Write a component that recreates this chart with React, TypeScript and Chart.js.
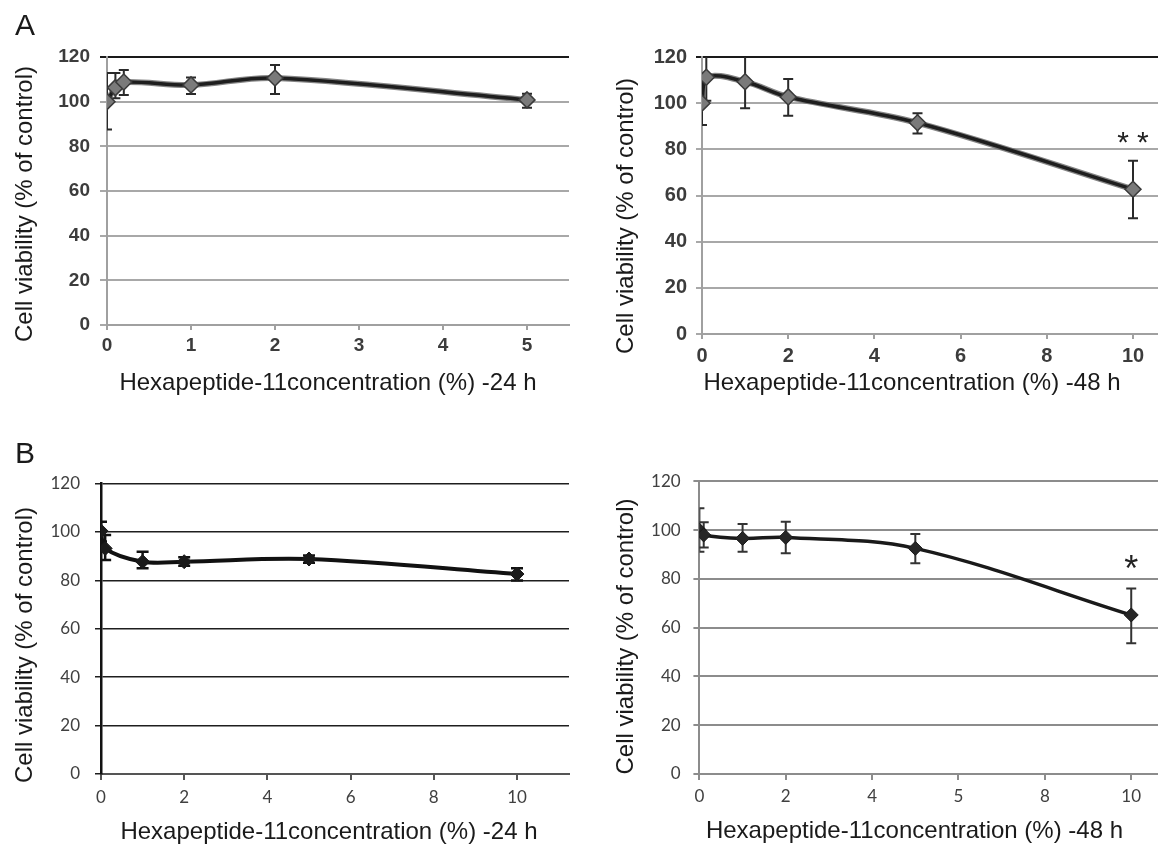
import React, { useEffect, useRef } from 'react';
import { Chart, registerables } from 'chart.js';

Chart.register(...registerables);

// ---------------- DATA ----------------
// Panel A, 24 h
const A24_X = [0, 0.1, 0.2, 1, 2, 5];
const A24_Y = [100, 106.3, 108.8, 107.5, 110.6, 100.8];
const A24_LOW = [87.5, 101.5, 103, 103.4, 103.4, 97.3];
const A24_HIGH = [112.8, 112.8, 114.2, 110.8, 116.4, 103.6];
const A24_XTICKS = [0, 1, 2, 3, 4, 5];
const A24_XLABELS = ['0', '1', '2', '3', '4', '5'];

// Panel A, 48 h
const A48_X = [0, 0.1, 1, 2, 5, 10];
const A48_Y = [100, 111.2, 109.3, 102.7, 91.5, 62.7];
const A48_LOW = [90.5, 101, 97.8, 94.6, 86.9, 50.1];
const A48_HIGH = [109.6, 121.5, 121.5, 110.5, 95.6, 75.1];
const A48_XTICKS = [0, 2, 4, 6, 8, 10];
const A48_XLABELS = ['0', '2', '4', '6', '8', '10'];
const A48_MARK = { x: 10, y: 82.3, text: '**' };

// Panel B, 24 h
const B24_X = [0, 0.1, 1, 2, 5, 10];
const B24_Y = [100.4, 93.2, 87.7, 87.7, 88.8, 82.6];
const B24_LOW = [96, 88.4, 85, 86, 87.3, 79.9];
const B24_HIGH = [104.2, 98.7, 91.8, 89.5, 90.3, 85];
const B24_XTICKS = [0, 2, 4, 6, 8, 10];
const B24_XLABELS = ['0', '2', '4', '6', '8', '10'];

// Panel B, 48 h
const B48_X = [0, 0.1, 1, 2, 5, 10];
const B48_Y = [100, 98, 96.6, 97, 92.5, 65.2];
const B48_LOW = [91.1, 92.9, 91.1, 90.5, 86.4, 53.6];
const B48_HIGH = [108.9, 103.2, 102.5, 103.4, 98.4, 76.1];
const B48_XTICKS = [0, 2, 4, 6, 8, 10];
const B48_XLABELS = ['0', '2', '4', '5', '8', '10'];
const B48_MARK = { x: 10, y: 83.1, text: '*' };

const Y_TITLE = 'Cell viability (% of control)';
const X_TITLE_24 = 'Hexapeptide-11concentration (%) -24 h';
const X_TITLE_48 = 'Hexapeptide-11concentration (%) -48 h';

// ---------------- PLUGINS ----------------
const errorBarPlugin = {
  id: 'errorBars',
  beforeDatasetsDraw(chart: any) {
    const { ctx, chartArea, scales } = chart;
    const xs = scales.x;
    const ys = scales.y;
    ctx.save();
    ctx.beginPath();
    ctx.rect(chartArea.left, chartArea.top, chartArea.right - chartArea.left, chartArea.bottom - chartArea.top);
    ctx.clip();
    chart.data.datasets.forEach((ds: any) => {
      const eb = ds.errorBars;
      if (!eb) return;
      ctx.strokeStyle = eb.color;
      ctx.lineWidth = eb.width;
      ds.data.forEach((pt: any, i: number) => {
        const px = xs.getPixelForValue(pt.x);
        const yl = ys.getPixelForValue(eb.low[i]);
        const yh = ys.getPixelForValue(eb.high[i]);
        ctx.beginPath();
        ctx.moveTo(px, yl);
        ctx.lineTo(px, yh);
        ctx.moveTo(px - eb.cap, yl);
        ctx.lineTo(px + eb.cap, yl);
        ctx.moveTo(px - eb.cap, yh);
        ctx.lineTo(px + eb.cap, yh);
        ctx.stroke();
      });
    });
    ctx.restore();
  },
};

const textPlugin = {
  id: 'panelText',
  afterDraw(chart: any, _args: any, opts: any) {
    const ctx = chart.ctx;
    const items = (opts && opts.items) || [];
    items.forEach((it: any) => {
      ctx.save();
      ctx.font = it.font;
      ctx.fillStyle = it.color || '#1a1a1a';
      ctx.textAlign = it.align || 'center';
      ctx.textBaseline = it.baseline || 'middle';
      let px = it.x;
      let py = it.y;
      if (it.dataX !== undefined) {
        px = chart.scales.x.getPixelForValue(it.dataX);
        py = chart.scales.y.getPixelForValue(it.dataY);
      }
      ctx.translate(px, py);
      if (it.rotate) ctx.rotate(it.rotate);
      if (it.spacing) {
        const chars = String(it.text).split('');
        const widths = chars.map((c: string) => ctx.measureText(c).width);
        const total = widths.reduce((a: number, b: number) => a + b, 0) + it.spacing * (chars.length - 1);
        let cx = -total / 2;
        ctx.textAlign = 'left';
        chars.forEach((c: string, i: number) => {
          ctx.fillText(c, cx, 0);
          cx += widths[i] + it.spacing;
        });
      } else {
        ctx.fillText(it.text, 0, 0);
      }
      ctx.restore();
    });
  },
};

// ---------------- CONFIG BUILDER ----------------
const ARIAL = '"Liberation Sans", Arial, sans-serif';
const CALIBRI = 'Lato, "Open Sans", sans-serif';

function makeConfig(p: any) {
  const pts = p.xs.map((x: number, i: number) => ({ x, y: p.ys[i] }));
  const datasets: any[] = [
    {
      data: pts,
      borderColor: p.lineColor,
      borderWidth: p.lineWidth,
      tension: p.tension,
      fill: false,
      pointStyle: 'rectRot',
      pointRadius: p.pointRadius,
      pointBackgroundColor: p.pointFill,
      pointBorderColor: p.pointBorder,
      pointBorderWidth: p.pointBorderWidth,
      errorBars: { low: p.low, high: p.high, color: p.errColor, width: p.errWidth, cap: p.errCap },
    },
  ];
  if (p.outline) {
    datasets.push({
      data: pts,
      borderColor: p.outline.color,
      borderWidth: p.outline.width,
      tension: p.tension,
      fill: false,
      pointRadius: 0,
    });
  }
  return {
    type: 'line',
    data: { datasets },
    options: {
      animation: false,
      responsive: false,
      layout: { autoPadding: false, padding: { top: p.padTop, right: p.padRight, left: 0, bottom: 0 } },
      plugins: {
        legend: { display: false },
        tooltip: { enabled: false },
        panelText: { items: p.texts },
      },
      scales: {
        x: {
          type: 'linear',
          min: 0,
          max: p.xMax,
          afterBuildTicks: (axis: any) => {
            axis.ticks = p.xTicks.map((v: number) => ({ value: v }));
          },
          afterFit: (s: any) => {
            s.height = p.xHeight;
            s.paddingLeft = 0;
            s.paddingRight = 0;
          },
          ticks: {
            autoSkip: false,
            maxRotation: 0,
            padding: p.xPad,
            font: p.tickFont,
            color: p.tickColor,
            callback: (_v: any, i: number) => p.xLabels[i],
          },
          grid: {
            drawOnChartArea: false,
            drawTicks: true,
            tickLength: p.xTickLen,
            color: p.xAxisColor,
            lineWidth: 2,
          },
          border: { color: p.xAxisColor, width: p.xAxisWidth },
        },
        y: {
          min: 0,
          max: 120,
          afterFit: (s: any) => {
            s.width = p.yWidth;
            s.paddingTop = 0;
            s.paddingBottom = 0;
          },
          ticks: {
            stepSize: 20,
            padding: p.yPad,
            font: p.tickFont,
            color: p.tickColor,
          },
          grid: {
            color: (c: any) => (c.tick && c.tick.value === 120 ? p.topColor : p.gridColor),
            lineWidth: p.gridWidth,
            tickLength: p.yTickLen,
          },
          border: { color: p.yAxisColor, width: p.yAxisWidth },
        },
      },
    },
    plugins: [errorBarPlugin, textPlugin],
  };
}

const titleFont = '24px ' + ARIAL;

const panels = [
  {
    key: 'a24',
    frame: { left: 0, top: 0, width: 575, height: 400 },
    cfg: {
      xs: A24_X, ys: A24_Y, low: A24_LOW, high: A24_HIGH,
      xTicks: A24_XTICKS, xLabels: A24_XLABELS, xMax: 5.5,
      padTop: 57, padRight: 6, yWidth: 107, xHeight: 75,
      xPad: 4, xTickLen: 5, yPad: 10, yTickLen: 7,
      tickFont: { family: ARIAL, size: 19, weight: 'bold' }, tickColor: '#3c3c3c',
      gridColor: '#a8a8a8', topColor: '#1a1a1a', gridWidth: 2,
      xAxisColor: '#a0a0a0', xAxisWidth: 2, yAxisColor: '#a0a0a0', yAxisWidth: 2,
      lineColor: '#1e1e1e', lineWidth: 3.5, tension: 0.35,
      outline: { color: 'rgba(110,110,110,0.85)', width: 6 },
      pointRadius: 8, pointFill: '#7a7a7a', pointBorder: '#3a3a3a', pointBorderWidth: 1.5,
      errColor: '#2a2a2a', errWidth: 2, errCap: 5,
      texts: [
        { text: 'A', x: 15, y: 35, align: 'left', baseline: 'alphabetic', font: '30px ' + ARIAL, color: '#1a1a1a' },
        { text: Y_TITLE, x: 25, y: 204, rotate: -Math.PI / 2, font: titleFont },
        { text: X_TITLE_24, x: 328, y: 383, font: titleFont },
      ],
    },
  },
  {
    key: 'a48',
    frame: { left: 580, top: 0, width: 578, height: 400 },
    cfg: {
      xs: A48_X, ys: A48_Y, low: A48_LOW, high: A48_HIGH,
      xTicks: A48_XTICKS, xLabels: A48_XLABELS, xMax: 10.58,
      padTop: 57, padRight: 0, yWidth: 122, xHeight: 66,
      xPad: 5, xTickLen: 5, yPad: 9, yTickLen: 6,
      tickFont: { family: ARIAL, size: 20, weight: 'bold' }, tickColor: '#3c3c3c',
      gridColor: '#a8a8a8', topColor: '#1a1a1a', gridWidth: 2,
      xAxisColor: '#a0a0a0', xAxisWidth: 2, yAxisColor: '#a0a0a0', yAxisWidth: 2,
      lineColor: '#1e1e1e', lineWidth: 3.5, tension: 0.35,
      outline: { color: 'rgba(110,110,110,0.85)', width: 6 },
      pointRadius: 8, pointFill: '#7a7a7a', pointBorder: '#3a3a3a', pointBorderWidth: 1.5,
      errColor: '#2a2a2a', errWidth: 2, errCap: 5,
      texts: [
        { text: Y_TITLE, x: 46.6, y: 216, rotate: -Math.PI / 2, font: titleFont },
        { text: X_TITLE_48, x: 332, y: 383, font: titleFont },
        { text: A48_MARK.text, dataX: A48_MARK.x, dataY: A48_MARK.y, font: '30px ' + ARIAL, spacing: 8, color: '#222' },
      ],
    },
  },
  {
    key: 'b24',
    frame: { left: 0, top: 430, width: 575, height: 414 },
    cfg: {
      xs: B24_X, ys: B24_Y, low: B24_LOW, high: B24_HIGH,
      xTicks: B24_XTICKS, xLabels: B24_XLABELS, xMax: 11.25,
      padTop: 53.5, padRight: 6, yWidth: 101, xHeight: 70,
      xPad: 7, xTickLen: 6, yPad: 15, yTickLen: 6,
      tickFont: { family: CALIBRI, size: 17 }, tickColor: '#404040',
      gridColor: '#1e1e1e', topColor: '#1e1e1e', gridWidth: 1.5,
      xAxisColor: '#555555', xAxisWidth: 2, yAxisColor: '#111111', yAxisWidth: 2.5,
      lineColor: '#111111', lineWidth: 4, tension: 0.35,
      pointRadius: 7, pointFill: '#1a1a1a', pointBorder: '#1a1a1a', pointBorderWidth: 1,
      errColor: '#111111', errWidth: 2.5, errCap: 6,
      texts: [
        { text: 'B', x: 15, y: 33, align: 'left', baseline: 'alphabetic', font: '30px ' + ARIAL, color: '#1a1a1a' },
        { text: Y_TITLE, x: 25, y: 215, rotate: -Math.PI / 2, font: titleFont },
        { text: X_TITLE_24, x: 329, y: 402, font: titleFont },
      ],
    },
  },
  {
    key: 'b48',
    frame: { left: 580, top: 430, width: 578, height: 414 },
    cfg: {
      xs: B48_X, ys: B48_Y, low: B48_LOW, high: B48_HIGH,
      xTicks: B48_XTICKS, xLabels: B48_XLABELS, xMax: 10.62,
      padTop: 51.3, padRight: 0, yWidth: 119.4, xHeight: 70,
      xPad: 6.5, xTickLen: 6, yPad: 12.7, yTickLen: 6,
      tickFont: { family: CALIBRI, size: 17 }, tickColor: '#404040',
      gridColor: '#8c8c8c', topColor: '#8c8c8c', gridWidth: 2,
      xAxisColor: '#8c8c8c', xAxisWidth: 2, yAxisColor: '#8c8c8c', yAxisWidth: 2,
      lineColor: '#1a1a1a', lineWidth: 3.5, tension: 0.35,
      pointRadius: 7, pointFill: '#262626', pointBorder: '#1a1a1a', pointBorderWidth: 1,
      errColor: '#333333', errWidth: 2, errCap: 5,
      texts: [
        { text: Y_TITLE, x: 46.6, y: 206.5, rotate: -Math.PI / 2, font: titleFont },
        { text: X_TITLE_48, x: 334.5, y: 401, font: titleFont },
        { text: B48_MARK.text, dataX: B48_MARK.x, dataY: B48_MARK.y, font: '36px ' + ARIAL, color: '#222' },
      ],
    },
  },
];

function Panel({ frame, cfg }: any) {
  const ref = useRef<HTMLCanvasElement | null>(null);
  useEffect(() => {
    if (!ref.current) return;
    const chart = new Chart(ref.current, makeConfig(cfg) as any);
    return () => chart.destroy();
  }, []);
  return (
    <div style={{ position: 'absolute', left: frame.left, top: frame.top, width: frame.width, height: frame.height }}>
      <canvas ref={ref} width={frame.width} height={frame.height} style={{ width: frame.width, height: frame.height, display: 'block' }} />
    </div>
  );
}

export default function App() {
  if (typeof document !== 'undefined') {
    document.body.style.margin = '0';
    document.body.style.background = '#ffffff';
  }
  return (
    <div style={{ position: 'relative', width: 1158, height: 844, overflow: 'hidden', background: '#ffffff' }}>
      {panels.map((p) => (
        <Panel key={p.key} frame={p.frame} cfg={p.cfg} />
      ))}
    </div>
  );
}
